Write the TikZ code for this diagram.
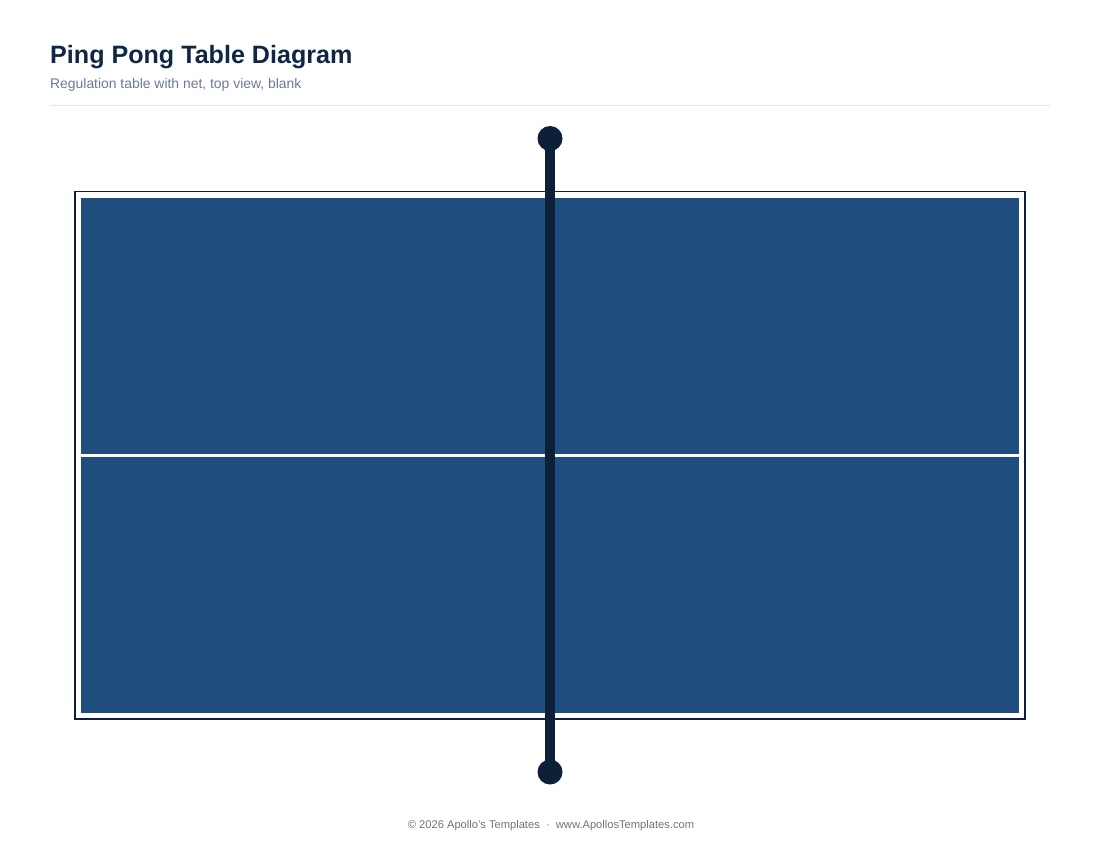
\documentclass[tikz,border=0pt]{standalone}
\usepackage{fontspec}
\setmainfont{Liberation Sans}
\definecolor{navy}{HTML}{0E1F38}
\definecolor{titlec}{HTML}{0F2744}
\definecolor{tableblue}{HTML}{1F4E7E}
\definecolor{subgray}{HTML}{6B7A8F}
\definecolor{rulegray}{HTML}{E5E7EB}
\definecolor{footgray}{HTML}{6B7280}
\begin{document}
\begin{tikzpicture}[x=1pt,y=-1pt,
  titletext/.style={anchor=base west,inner sep=0pt,font=\fontsize{25.1}{29}\selectfont\bfseries,text=titlec},
  subtext/.style={anchor=base west,inner sep=0pt,font=\fontsize{13.9}{16}\selectfont,text=subgray},
  foottext/.style={anchor=base,inner sep=0pt,font=\fontsize{11.15}{13}\selectfont,text=footgray},
  border/.style={draw=navy,line width=1.5pt},
  surface/.style={fill=tableblue},
  centerline/.style={draw=white,line width=3pt},
  netline/.style={draw=navy,line width=10pt},
  post/.style={circle,fill=navy,minimum size=25pt,inner sep=0pt}]
\useasboundingbox (0,0) rectangle (1100,850);
% header
\node[titletext] (title) at (50,64) {Ping Pong Table Diagram};
\node[subtext] (sub) at (50,89) {Regulation table with net, top view, blank};
\draw[rulegray,line width=1pt] (50,105.5) -- (1050,105.5);
% table
\draw[border] (75,191.5) rectangle (1025,719);
\fill[surface] (81,198) rectangle (1019,713);
\coordinate (cl) at (81,455.5);
\coordinate (cr) at (1019,455.5);
\draw[centerline] (cl) -- (cr);
% net
\node[post] (ptop) at (550,138.5) {};
\node[post] (pbot) at (550,772) {};
\draw[netline] (ptop.center) -- (pbot.center);
% footer
\node[foottext] (foot) at (551,828) {\textcopyright{} 2026 Apollo's Templates \ \textperiodcentered\ \ www.ApollosTemplates.com};
\end{tikzpicture}
\end{document}
